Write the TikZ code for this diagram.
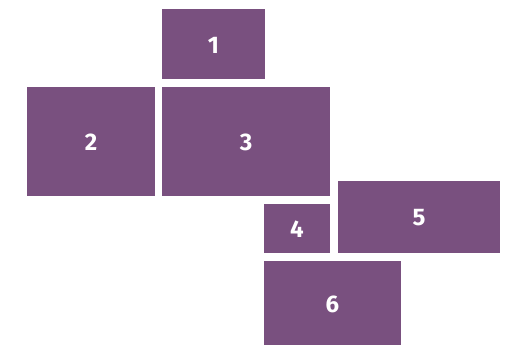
\documentclass[tikz,border=0pt]{standalone}
\usepackage{fontspec}
\setsansfont{Fira Sans}
\definecolor{boxpurple}{RGB}{121,80,127}
\begin{document}
\begin{tikzpicture}[x=1pt,y=-1pt,
  pbox/.style={fill=boxpurple,draw=none,inner sep=0pt,text=white,font=\sffamily\bfseries\fontsize{24}{26}\selectfont}]
\useasboundingbox (0,0) rectangle (509,345);
\def\bx#1#2#3#4#5#6{\path[pbox] (#2,#3) rectangle (#4,#5) node[pbox,fill=none,midway,yshift=-1pt] (#1) {#6};}
\bx{b1}{162}{9}{265}{79}{1}
\bx{b2}{27}{87}{155}{196}{2}
\bx{b3}{162}{87}{330}{196}{3}
\bx{b4}{264}{204}{330}{253}{4}
\bx{b5}{338}{181}{500}{253}{5}
\bx{b6}{264}{261}{401}{345}{6}
\end{tikzpicture}
\end{document}
